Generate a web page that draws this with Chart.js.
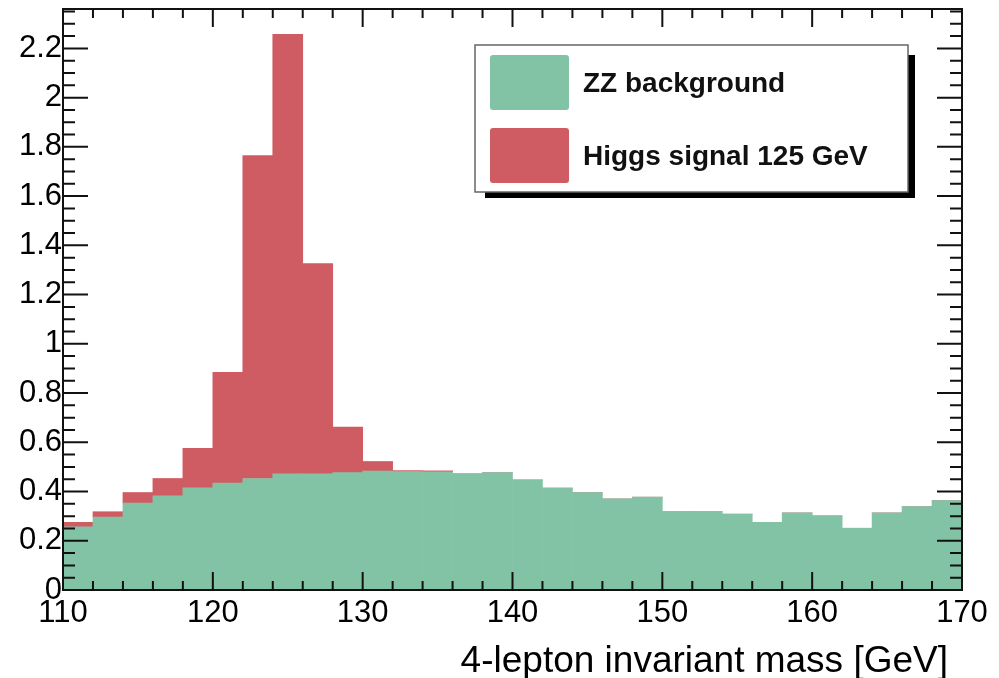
<!DOCTYPE html>
<html>
<head>
<meta charset="utf-8">
<title>4-lepton invariant mass</title>
<script src="https://cdn.jsdelivr.net/npm/chart.js@4.4.1/dist/chart.umd.min.js"></script>
<style>
  html, body { margin: 0; padding: 0; background: #fff; }
</style>
</head>
<body>
<canvas id="massChart" width="999" height="678"></canvas>
<script>
// Bin centres of the 2 GeV wide histogram bins
const massBins = [111, 113, 115, 117, 119, 121, 123, 125, 127, 129,
                  131, 133, 135, 137, 139, 141, 143, 145, 147, 149,
                  151, 153, 155, 157, 159, 161, 163, 165, 167, 169];

const zzBackground = [0.257, 0.296, 0.353, 0.383, 0.415, 0.434, 0.453, 0.472, 0.472, 0.477,
                      0.483, 0.481, 0.480, 0.472, 0.477, 0.447, 0.414, 0.396, 0.370, 0.377,
                      0.318, 0.318, 0.308, 0.275, 0.313, 0.301, 0.251, 0.313, 0.339, 0.363];

// stacked on top of the background
const higgsSignal = [0.018, 0.022, 0.043, 0.070, 0.160, 0.450, 1.312, 1.785, 0.854, 0.185,
                     0.039, 0.004, 0.004, 0, 0, 0, 0, 0, 0, 0,
                     0, 0, 0, 0, 0, 0, 0, 0, 0, 0];

const seriesNames = ['ZZ background', 'Higgs signal 125 GeV'];
const xTickValues = [110, 120, 130, 140, 150, 160, 170];
const yTickValues = [0, 0.2, 0.4, 0.6, 0.8, 1, 1.2, 1.4, 1.6, 1.8, 2, 2.2];
const xTitle = '4-lepton invariant mass [GeV]';

const GREEN = '#83c3a5';
const RED = '#cf5c63';
const FONT = '"Liberation Sans", Arial, Helvetica, sans-serif';

// ROOT style frame: ticks inside on all four sides, legend box with shadow
const rootStyle =
{
    id: 'rootStyle',
    afterDatasetsDraw(chart)
    {
        const { ctx, chartArea: a, scales: { x, y } } = chart;
        ctx.save();
        ctx.strokeStyle = '#111';
        ctx.lineWidth = 2;
        ctx.beginPath();
        for (let i = 0; x.min + i * 2 <= x.max + 1e-9; i++)
        {
            const v = x.min + i * 2;
            const px = x.getPixelForValue(v);
            const len = xTickValues.includes(v) ? 18 : 9;
            ctx.moveTo(px, a.bottom); ctx.lineTo(px, a.bottom - len);
            ctx.moveTo(px, a.top); ctx.lineTo(px, a.top + len);
        }
        for (let i = 0; i * 0.05 <= y.max + 1e-9; i++)
        {
            const py = y.getPixelForValue(i * 0.05);
            const len = i % 4 === 0 ? 25 : 12;
            ctx.moveTo(a.left, py); ctx.lineTo(a.left + len, py);
            ctx.moveTo(a.right, py); ctx.lineTo(a.right - len, py);
        }
        ctx.stroke();
        ctx.strokeRect(a.left, a.top, a.right - a.left, a.bottom - a.top);
        ctx.restore();
    },
    afterDraw(chart)
    {
        const { ctx, chartArea: a } = chart;
        ctx.save();

        // axis title, right aligned under the axis
        ctx.fillStyle = '#000';
        ctx.font = '37px ' + FONT;
        ctx.textAlign = 'right';
        ctx.textBaseline = 'alphabetic';
        ctx.fillText(xTitle, a.right - 14, 672);

        // legend box with its shadow
        const bx = 475, by = 45, bw = 433, bh = 147;
        ctx.fillStyle = '#000';
        ctx.fillRect(bx + 10, by + 10, bw - 3, bh - 4);
        ctx.fillStyle = '#fff';
        ctx.fillRect(bx, by, bw, bh);
        ctx.strokeStyle = '#666';
        ctx.lineWidth = 1.5;
        ctx.strokeRect(bx, by, bw, bh);

        ctx.font = 'bold 28px ' + FONT;
        ctx.textAlign = 'left';
        chart.data.datasets.forEach((ds, i) =>
        {
            const sy = by + 10 + i * 73;
            ctx.fillStyle = ds.backgroundColor;
            ctx.beginPath();
            ctx.roundRect(bx + 15, sy, 79, 55, 3);
            ctx.fill();
            ctx.fillStyle = '#111';
            ctx.fillText(ds.label, bx + 108, sy + 37);
        });
        ctx.restore();
    }
};

new Chart(document.getElementById('massChart'),
{
    type: 'bar',
    data:
    {
        labels: massBins,
        datasets:
        [
            { label: seriesNames[0], data: zzBackground, backgroundColor: GREEN },
            { label: seriesNames[1], data: higgsSignal, backgroundColor: RED }
        ]
    },
    options:
    {
        responsive: false,
        animation: false,
        devicePixelRatio: 1,
        layout: { padding: { top: 9, right: 37, left: 0, bottom: 0 } },
        datasets:
        {
            bar: { barPercentage: 1, categoryPercentage: 1, borderWidth: 0 }
        },
        plugins:
        {
            legend: { display: false },
            tooltip: { enabled: false }
        },
        scales:
        {
            x:
            {
                type: 'linear',
                stacked: true,
                offset: false,
                min: 110,
                max: 170,
                grid: { display: false, drawTicks: false, offset: false },
                border: { display: false },
                afterBuildTicks: scale => { scale.ticks = xTickValues.map(v => ({ value: v })); },
                afterFit: scale =>
                {
                    scale.height = 88;
                    scale.paddingLeft = 0;
                    scale.paddingRight = 0;
                },
                ticks:
                {
                    autoSkip: false,
                    maxRotation: 0,
                    padding: 5,
                    color: '#000',
                    font: { family: FONT, size: 31 },
                    callback: v => String(v)
                }
            },
            y:
            {
                stacked: true,
                min: 0,
                max: 2.36,
                grid: { display: false, drawTicks: false },
                border: { display: false },
                afterBuildTicks: scale => { scale.ticks = yTickValues.map(v => ({ value: v })); },
                afterFit: scale =>
                {
                    scale.width = 63;
                    scale.paddingTop = 0;
                    scale.paddingBottom = 0;
                },
                ticks:
                {
                    autoSkip: false,
                    padding: 1,
                    color: '#000',
                    font: { family: FONT, size: 31 },
                    callback: v => String(v)
                }
            }
        }
    },
    plugins: [rootStyle]
});
</script>
</body>
</html>
